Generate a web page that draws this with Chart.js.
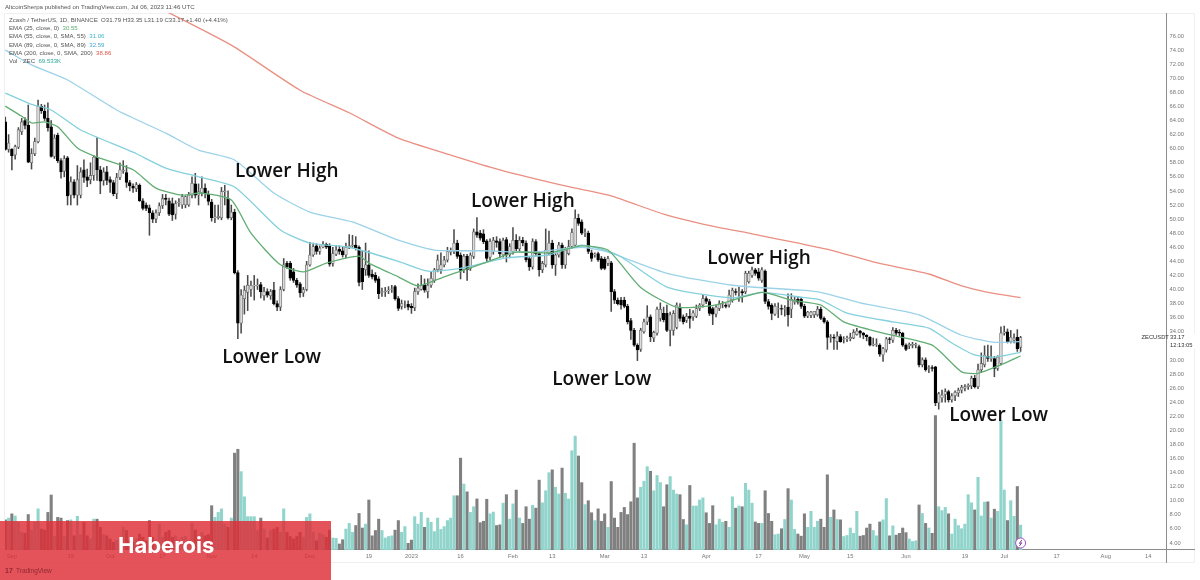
<!DOCTYPE html>
<html>
<head>
<meta charset="utf-8">
<style>
  html, body { margin: 0; padding: 0; background: #fff; overflow: hidden; }
  canvas { display: block; }
</style>
<script src="https://cdn.jsdelivr.net/npm/chart.js@4"></script>
</head>
<body>
<canvas id="chart" width="1200" height="580"></canvas>
<script>
// ZEC/USDT daily candles, day 0 = 30 Aug 2022, last day = 6 Jul 2023
const opens = [
  63.8,59.9,59.9,59.1,60.2,62.4,64,63.3,58,59.3,61,66,65.3,64.3,63.1,58.9,61.9,58.3,56.8,58.7,53.4,55.3,53.4,53.4,57,56,55.6,56.2,58.8,57,
  55.5,56.7,55.6,55.2,53.6,55.9,56.8,56.6,55.2,54.7,54.3,54.8,52.6,52,51.6,50.9,50,50.9,51.9,53,52.6,52.2,50.7,52.3,52,52,52,53.4,55,53.4,
  53.7,54.4,53.5,52.4,50.2,50.2,50.2,53.9,52.9,50.2,51,42.4,35.2,38.7,39.6,40,40.5,40.5,40.7,39.1,39.7,39.1,39.9,38,37.5,40,43.7,43.7,42.5,41.3,
  40.8,39.5,40,43.5,44.9,46.2,45.4,46,46.4,46.2,43.7,45,45.7,45.5,44.9,46,46.2,46.3,46,43,42.8,43.5,42.2,42,41.5,39.6,39.7,39.8,40,40.4,
  38.7,37.6,37.9,37.9,37.6,37.4,39.7,40,40.7,39.7,40.6,41.3,42.8,42.8,43.5,44.2,45.3,45.4,46.6,44.9,42.8,44.7,43,44.7,48.2,48,47.9,46.9,44.6,45.4,
  46.9,46.8,44.9,47.1,44.9,45.4,47,45.8,47,46.6,44.4,43.2,46.8,45.1,42.8,43.5,45.1,46.6,43.5,44.9,46.3,43.5,45.1,46.1,46.3,50.1,49.6,48,48,45.2,
  44.9,45.1,44.4,44.3,43.7,43.8,39.7,38.5,38.5,38.5,37.6,35.6,34.2,32.1,31.5,34,35.4,36.1,33.1,33.8,35.9,36.6,36.6,34.2,34.2,34.6,37.5,36.1,35.6,36.2,
  36.1,36.2,37.3,37.8,38.7,38.3,37.3,36.5,37.3,37.9,37.8,37.8,38.5,39.7,39.6,39.7,39.7,41.1,42,42.8,42.5,41.3,42.6,38.3,37.8,36.5,37.2,37.3,37.2,37.5,
  37.2,38.2,38.6,38.6,37.6,36.2,36.3,36.4,36.4,37.2,35.9,35.4,33.2,33.2,32.6,33.3,32.9,33,33,33.1,33.6,34.1,33.8,33.5,33.2,32.1,32.2,32.1,30.7,31.4,
  33,32.8,34.2,33.9,33.8,32.1,32,32.1,32.1,31.9,29.3,30,28.8,28.9,29,23.9,24.6,25.1,25.5,24.3,24.9,25.3,25.7,26,26.2,26.3,27.4,26.2,28.6,29.3,
  30.5,30.2,30.2,28.8,29.5,33.8,34,32.6,32.8,33.2,31.79];
const highs = [
  64.5,62,60,60.5,63,64.3,64.4,66.2,60,61.5,66.9,66.3,66.2,66.5,64,62,62.2,58.6,59,58.9,56,55.6,57.6,57.3,58.4,57.1,58,59,61.6,57.5,
  57.3,57.5,56,55.5,56.5,58,58.3,57.6,55.5,55,55.2,55,52.9,52.3,52,51.2,51.3,52.3,53.5,53.5,53,53,52.6,52.9,53.5,53.3,53.8,56,56.5,55,
  56,55,54,52.8,52,52,54.5,54.8,54,52,51.4,42.7,40,40.5,42,41.2,42,41.5,41,40.3,40.1,40,41,38.4,40.4,44.4,44,44,43,41.6,
  41,40.3,44,46.7,46.6,46.5,46.2,46.8,46.6,46.5,46,46.2,46.2,46,46.6,47.8,47.7,47.5,46.2,45.5,46.6,45.5,42.8,42.4,41.8,40.2,40.3,40.4,40.6,40.6,
  39,38.5,38.4,38.4,38,40.2,40.8,42,41.5,41.5,42.5,43,44.9,45.2,44.7,46,45.9,48.5,47,45.2,45,45,45.2,48.6,50.2,48.4,48.5,47.1,47.2,47.4,
  47.5,47.2,47.3,47.4,46.5,48.8,47.8,47.5,47.4,46.9,44.7,47.2,47.1,45.4,44,48.6,48.3,47,45.2,46.7,46.6,46,47,48.6,51.3,50.7,49.9,48.6,48.3,45.6,
  45.2,45.3,44.7,44.6,44.7,44,40,38.8,38.9,38.9,37.9,35.9,34.5,32.3,34.5,35.8,37.7,36.4,34.1,37.5,38.1,37.5,37.8,36.8,37,38.1,38,36.4,36.6,37.2,
  37,37.8,38,39.3,39,38.6,37.5,37.8,38.4,38.3,38,39.9,40.2,40.1,40.3,40,42.6,42.6,43.2,43,43,43.1,42.8,38.6,38,38,38.1,37.8,37.7,39.4,
  39.4,38.9,39,38.9,37.9,36.9,36.9,36.9,37.6,37.5,36.1,35.6,33.6,33.6,34,33.6,33.3,33.4,33.8,34.3,34.5,34.2,33.9,33.6,33.3,33.1,33,32.3,31.8,33.2,
  33.2,34.6,34.5,34.3,33.9,32.3,32.4,32.5,32.4,32.1,30.3,30.3,29.2,29.2,29.1,25.4,25.7,25.9,25.7,25.2,25.6,26,26.4,26.5,26.6,27.7,27.8,29.4,31,32,
  32.1,32,30.5,30.6,34.7,34.8,34.4,34.2,33.7,34.3,33.35];
const lows = [
  59.8,59.5,57,58.5,60,62,62.8,58,57.1,59,60.8,65,64,62.5,58.8,58.6,58,55.8,56,52,52,53,52,53,55.2,54.6,55,55.5,55.5,53.6,
  54.8,54.9,53.8,53.3,52.9,55.6,56.5,54.5,54,53.8,53.9,52.5,51.3,51.2,47.7,49.5,49.5,50.5,51.5,52,50.5,49.8,50,51.8,51.5,51.6,51.8,53,53,52,
  53.3,53,52,49.7,49.5,50,49.9,52,50,49.9,42.2,33,33.8,36.5,37,39,38.5,40,38.8,38.5,38.9,38.6,37.8,37,37,39.8,43,41.3,41,40.3,
  38.9,39,39.8,43.3,44.7,45,45,45.9,45.8,43.3,43.3,44.8,45,44.6,44.5,45.8,46,45.6,40.5,40,42,41.7,41.5,41,38.7,39,39,39.4,39.6,38.5,
  37,37.2,37.4,37.1,36.6,37,39.3,39.9,39.6,38.8,40.3,41,42.5,42.3,43.2,43.9,44.9,45.1,44.4,41.5,42.4,41.3,42.7,44.4,47.4,47,46.5,44,44.2,45,
  46,44.5,44.6,43.9,44.5,45,45.5,45.5,46.2,43.9,42.7,42.9,44.8,41.9,42.4,43.2,44.9,43,42,44.6,43,43,44.9,45.8,46,49.1,47.8,47.5,45.1,44,
  44.6,44,42.8,42.8,43.4,36.9,38,37.8,37.2,37.4,35.1,32.9,31.9,29.9,31.2,33.8,35,32.6,32.6,33.5,35.5,35.4,34,32,33.5,34.4,35.5,35.1,35.3,34.5,
  35.6,36,37,37.5,38,36.3,35,36.1,37,37.4,37.4,37.5,38.2,39.2,38.3,38.2,39.4,40.9,41.7,42,41.3,41,38,37.2,35.7,36.3,36,36.4,36.2,34.8,
  36,37.9,37.9,37.3,36,36,36,36,36.2,35.7,35.2,31.5,32.5,31.5,31.5,32.5,32.4,32.6,32.7,33,33.5,33.2,33,32.7,32,32,31.9,30.5,29.8,31.1,
  32.3,32.5,33.5,33.4,31.9,31.3,31.6,31.7,31.7,29,29,28.4,28.2,28.4,23.5,23,24,24,24,24,24.2,24.8,25.3,25.6,25.8,25.9,26,25.9,28.2,29,
  29.8,29.8,27.6,28.5,29.3,33.5,32.4,32.4,32.4,31.2,31.19];
const closes = [
  59.9,60.8,59,60.3,62.7,63.8,63.3,58.1,59.3,61,66,65.4,64.3,63,58.9,61.5,58.3,56.7,58.6,53.3,55.3,53.4,55.6,56.7,55.9,55.5,56.2,58.8,57,55.4,
  56.7,55.5,55.2,53.6,55.9,57,57,55.2,54.7,54.4,54.9,52.6,51.5,51.5,50.9,50,50.9,51.9,52.9,52.8,50.7,50.6,52.2,52.4,53.2,53.2,53.4,55.1,53.4,53.9,
  54.4,53.6,52.5,50.2,50.3,50.4,53.9,54,50.2,51,42.4,35.2,39.2,39.9,40.6,40.6,40.6,40.6,39.7,39.7,39.2,39.7,38,37.5,40,43.5,43.2,41.6,41.3,40.6,
  39.5,40,43.5,44.9,46.1,45.4,45.9,46.4,46,43.6,45.1,45.6,45.4,44.9,46,46.2,46.3,45.9,41,41.1,43.5,42,41.8,41.3,39.4,39.7,39.8,39.9,40.1,38.7,
  37.3,38,37.9,37.5,37.4,39.7,40.2,40.6,39.9,40.6,41.6,42.8,44.2,43.5,44.2,45.4,45.5,46.6,44.7,42.7,44.7,42.8,44.9,48.2,47.7,47.3,46.8,44.4,46.8,47,
  46.7,45.1,47,44.9,46.1,47,45.8,47,46.6,44.2,43.2,46.8,45.1,42.8,43.7,45.6,46.6,43.5,44.9,46.3,43.5,45.6,46.1,48.1,50.1,49.4,48,48.1,45.4,44.4,
  45,44.2,43,43,44.4,39.7,38.5,38,37.8,37.6,35.4,34.2,32.1,31.4,34.2,35.4,36.1,33.3,33.9,37.2,37.2,35.7,34.2,36.4,36.6,37.8,35.9,35.4,36.2,35.9,
  36.7,37.3,37.8,38.7,38.3,36.6,36.5,37.5,38,38,37.6,39.2,39.9,39.6,39.7,39.5,42.3,42.3,42.8,42.3,41.6,42.8,38.3,37.6,36.6,37.6,37.3,37.2,37.3,36.4,
  38.6,38.3,38.2,37.6,36.2,36.8,36.8,36.9,37.2,35.9,35.4,33.2,33.3,33.1,33.4,32.6,33,33.1,33.2,33.9,34.1,33.8,33.5,33.3,32.1,32.2,32.3,30.8,31.6,33,
  32.9,34.2,33.8,33.8,32.1,31.5,32.2,32.2,32.2,29.3,30,28.6,28.9,28.8,23.9,25.2,25,25.5,24.3,24.9,25.4,25.7,26.1,26.2,26.4,27.4,26.2,28.6,29.5,30.7,
  30.2,30.3,28.8,30.4,33.8,34,32.6,33.2,33.1,31.6,33.17];
// thousands of ZEC
const volumes = [
  85,90,102,96,78,50,47,100,56,78,116,59,56,106,155,38,92,90,38,83,85,40,95,43,78,40,31,87,87,64,
  43,40,31,22,28,24,64,55,26,22,31,45,36,26,83,36,28,73,36,50,55,36,40,28,36,38,28,75,56,40,
  50,40,43,125,92,106,116,73,64,90,273,284,221,150,94,94,94,55,90,59,34,55,59,64,50,116,50,38,31,38,
  50,36,92,102,50,26,47,43,36,56,34,33,17,29,59,75,50,69,103,62,73,141,40,55,87,55,34,38,40,56,
  83,50,66,19,28,94,73,106,64,90,78,52,90,58,66,83,90,153,153,259,186,164,106,122,144,77,81,143,102,107,
  69,71,132,156,87,130,169,90,75,122,87,126,118,197,133,167,218,226,177,158,231,160,144,280,321,265,190,128,139,105,
  83,116,81,102,64,193,90,64,106,120,100,136,301,147,177,194,235,222,167,210,190,122,184,207,169,158,156,86,71,182,
  124,124,141,147,105,75,125,71,87,78,81,64,150,118,124,122,188,169,132,79,75,75,167,103,81,43,45,60,86,173,
  141,58,45,39,102,64,109,64,81,87,64,212,92,113,86,85,38,41,62,47,109,39,41,62,73,55,40,79,85,145,
  40,68,42,47,62,49,31,24,26,127,103,75,62,47,379,122,111,120,102,45,87,69,60,73,156,133,113,205,96,135,
  136,90,115,109,365,169,83,139,95,179,70];

// moving averages read at the turning points of each line
const ema25Days = [0,5,8,12,16,22,28,39,46,54,60,69,75,84,91,98,108,111,120,126,134,140,147,156,166,176,184,194,205,217,231,240,249,256,268,283,292,297,304,310];
const ema25 = [66.05,64.6,63.65,63.8,63.1,60.1,58.8,57,54.4,53.4,53.7,52.7,48,43.5,42.5,43.75,44.75,43.75,41.8,40.5,41.8,42.75,43.9,45.3,45.2,46.2,45.6,40.3,37.5,37.8,39.6,38.5,37.8,35.4,33.8,32.1,28.3,28.1,29.3,30.55];
const ema55Days = [0,8,14,23,39,49,59,70,84,93,105,120,129,139,153,166,176,187,202,222,231,243,249,257,271,282,289,296,302,310];
const ema55 = [67.9,66.3,65.5,62.65,59.5,57.25,56,54.55,48.45,46.6,46,44,42.6,43,44.5,44.9,46.3,44.9,40.35,38.8,39.6,38.9,38.5,36.65,35.4,34.5,32.4,30.7,30.4,31.06];
const ema89Days = [0,8,19,34,49,59,70,82,93,106,120,131,146,161,176,184,202,222,243,249,261,279,292,302,310];
const ema89 = [74,71.9,69.75,65.5,62.2,59.8,58.4,53.7,51,49.6,47,45.6,45.5,45.3,46,45.3,42.3,40.6,39.9,39.6,38.1,36.4,33.5,32.5,32.59];
const ema200Days = [47,69,90,105,120,136,151,172,185,201,213,228,243,252,266,282,292,300,310];
const ema200 = [80,74.7,68.3,65.1,61.5,59.1,57,54.6,53.3,50.7,49.3,47.9,46.5,45.6,43.8,42.2,40.5,39.6,38.86];

const priceTicks = [76,74,72,70,68,66,64,62,60,58,56,54,52,50,48,46,44,42,40,38,36,34,32,30,28,26,24,22,20,18,16,14,12,10,8,6,4];
const timeTickDays = [2,20,32,48,63,76,93,111,124,139,155,167,183,195,214,230,244,258,275,293,305,321,336,349];
const timeTickLabels = ['Sep','19','Oct','17','Nov','14','Dec','19','2023','16','Feb','13','Mar','13','Apr','17','May','15','Jun','19','Jul','17','Aug','14'];

const noteTexts = ['Lower High','Lower Low','Lower High','Lower Low','Lower High','Lower Low'];
const noteDays = [70.1,66.2,142.2,167,214.3,288.2];
const notePrices = [56.7,30.3,52.5,27.2,44.4,22.1];

const days = opens.map((_, i) => i);
const isUp = i => closes[i] >= opens[i];

const smallFont = '"Liberation Sans"'

const lineSet = (label, xs, ys, color) => ({
  type: 'line',
  label,
  data: xs.map((x, i) => ({ x, y: ys[i] })),
  borderColor: color,
  borderWidth: 1.3,
  pointRadius: 0,
  tension: 0.2,
  yAxisID: 'y',
  order: 1
})

const overlayPlugin = {
  id: 'overlay',
  beforeDatasetsDraw(chart) {
    const { ctx, chartArea: a } = chart
    ctx.save()
    ctx.strokeStyle = '#f0f0f0'
    ctx.lineWidth = 1
    ctx.strokeRect(4.5, 13.5, 1190, 549)
    ctx.strokeStyle = '#8c8c8c'
    ctx.beginPath()
    ctx.moveTo(a.right + 0.5, a.top)
    ctx.lineTo(a.right + 0.5, 563)
    ctx.moveTo(a.left, a.bottom - 0.5)
    ctx.lineTo(1195, a.bottom - 0.5)
    ctx.stroke()
    ctx.restore()
  },
  afterDraw(chart) {
    const { ctx, scales } = chart
    const x = scales.x
    const y = scales.y
    ctx.save()
    ctx.textBaseline = 'middle'

    // header and legend
    ctx.font = `6.1px ${smallFont}`
    ctx.fillStyle = '#555'
    ctx.fillText('AltcoinSherpa published on TradingView.com, Jul 06, 2023 11:46 UTC', 5, 7)
    const last = opens.length - 1
    ctx.fillText(`Zcash / TetherUS, 1D, BINANCE  O${opens[last]} H${highs[last]} L${lows[last]} C${closes[last]} +1.40 (+4.41%)`, 9, 20)
    const legend = [
      ['EMA (25, close, 0)', ema25, '#5fae6f'],
      ['EMA (55, close, 0, SMA, 55)', ema55, '#3fb8c8'],
      ['EMA (89, close, 0, SMA, 89)', ema89, '#4aa8d8'],
      ['EMA (200, close, 0, SMA, 200)', ema200, '#e0544a']
    ]
    legend.forEach(([name, vals, color], i) => {
      const ly = 28.4 + i * 8.35
      ctx.fillStyle = '#555'
      ctx.fillText(name, 9, ly)
      const w = ctx.measureText(name + '  ').width
      ctx.fillStyle = color
      ctx.fillText(vals[vals.length - 1].toFixed(2), 9 + w, ly)
    })
    ctx.fillStyle = '#555'
    ctx.fillText('Vol · ZEC', 9, 61.7)
    const vw = ctx.measureText('Vol · ZEC  ').width
    ctx.fillStyle = '#2fa898'
    ctx.fillText('69.533K', 9 + vw, 61.7)

    // last price tag on the axis, hides the tick under the countdown
    const py = y.getPixelForValue(closes[last])
    ctx.fillStyle = '#fff'
    ctx.fillRect(x.right + 2, py - 4, 30, 15)
    ctx.fillStyle = '#333'
    ctx.font = `5.8px ${smallFont}`
    ctx.fillText('ZECUSDT', x.right - 24.5, py)
    ctx.fillText(closes[last].toFixed(2), x.right + 4, py)
    ctx.fillText('12:13:05', x.right + 4, py + 7.5)

    // swing notes
    ctx.fillStyle = '#111'
    ctx.font = '600 19px "Open Sans"'
    noteTexts.forEach((t, i) => {
      ctx.fillText(t, x.getPixelForValue(noteDays[i]), y.getPixelForValue(notePrices[i]))
    })

    // dividend flag on the last bar
    const fx = x.getPixelForValue(last)
    ctx.beginPath()
    ctx.arc(fx, 543, 5, 0, Math.PI * 2)
    ctx.fillStyle = '#fff'
    ctx.fill()
    ctx.strokeStyle = '#a64fc8'
    ctx.lineWidth = 1
    ctx.stroke()
    ctx.beginPath()
    ctx.moveTo(fx + 1.2, 540)
    ctx.lineTo(fx - 1.2, 543.4)
    ctx.lineTo(fx + 1.2, 542.8)
    ctx.lineTo(fx - 1.2, 546)
    ctx.strokeStyle = '#7a3fa0'
    ctx.stroke()

    // red banner
    ctx.fillStyle = 'rgba(222, 44, 54, 0.82)'
    ctx.fillRect(0, 521, 331, 59)
    ctx.fillStyle = '#fff'
    ctx.font = 'bold 22px "Inter"'
    ctx.fillText('Haberois', 118, 546)
    ctx.fillStyle = 'rgba(120, 30, 35, 0.8)'
    ctx.font = `6.5px ${smallFont}`
    ctx.fillText('TradingView', 16, 571.5)
    ctx.font = `bold 7px ${smallFont}`
    ctx.fillText('17', 5, 571.5)
    ctx.restore()
  }
}

new Chart(document.getElementById('chart').getContext('2d'), {
  data: {
    datasets: [
      lineSet('EMA 25', ema25Days, ema25, '#62ad73'),
      lineSet('EMA 55', ema55Days, ema55, '#84d0dc'),
      lineSet('EMA 89', ema89Days, ema89, '#9bd2e8'),
      lineSet('EMA 200', ema200Days, ema200, '#ea8f82'),
      {
        type: 'bar',
        label: 'Body',
        data: days.map(i => ({ x: i, y: [opens[i], closes[i]] })),
        backgroundColor: days.map(i => (isUp(i) ? '#dcdcdc' : '#000000')),
        borderColor: days.map(i => (isUp(i) ? '#707070' : '#000000')),
        borderWidth: 0.8,
        borderSkipped: false,
        barThickness: 2.8,
        yAxisID: 'y',
        order: 2
      },
      {
        type: 'bar',
        label: 'Wick',
        data: days.map(i => ({ x: i, y: [lows[i], highs[i]] })),
        backgroundColor: '#4a4a4a',
        barThickness: 0.9,
        yAxisID: 'y',
        order: 3
      },
      {
        type: 'bar',
        label: 'Volume',
        data: days.map(i => ({ x: i, y: volumes[i] })),
        backgroundColor: days.map(i => (isUp(i) ? '#90d4cb' : '#808080')),
        barThickness: 2.4,
        yAxisID: 'v',
        order: 4
      }
    ]
  },
  options: {
    responsive: false,
    animation: false,
    devicePixelRatio: 1,
    layout: { padding: { left: 5, top: 13, right: 0, bottom: 0 } },
    datasets: { bar: { grouped: false } },
    plugins: { legend: { display: false }, tooltip: { enabled: false }, title: { display: false } },
    scales: {
      x: {
        type: 'linear',
        offset: false,
        min: -0.1,
        max: 354.4,
        grid: { display: false, offset: false, drawTicks: false },
        border: { display: false },
        afterFit: s => { s.height = 30 },
        afterBuildTicks: s => { s.ticks = timeTickDays.map(value => ({ value })) },
        ticks: {
          autoSkip: false,
          maxRotation: 0,
          padding: 3,
          color: '#777',
          font: { size: 5.8, family: 'Liberation Sans' },
          callback: v => timeTickLabels[timeTickDays.indexOf(v)]
        }
      },
      y: {
        position: 'right',
        min: 3,
        max: 79.27,
        grid: { display: false, drawTicks: false },
        border: { display: false },
        afterFit: s => { s.width = 34 },
        afterBuildTicks: s => { s.ticks = priceTicks.map(value => ({ value })) },
        ticks: {
          autoSkip: false,
          padding: 3.5,
          color: '#777',
          font: { size: 5.8, family: 'Liberation Sans' },
          callback: v => v.toFixed(2)
        }
      },
      v: {
        display: false,
        min: 0,
        max: 1514
      }
    }
  },
  plugins: [overlayPlugin]
})
</script>
</body>
</html>
